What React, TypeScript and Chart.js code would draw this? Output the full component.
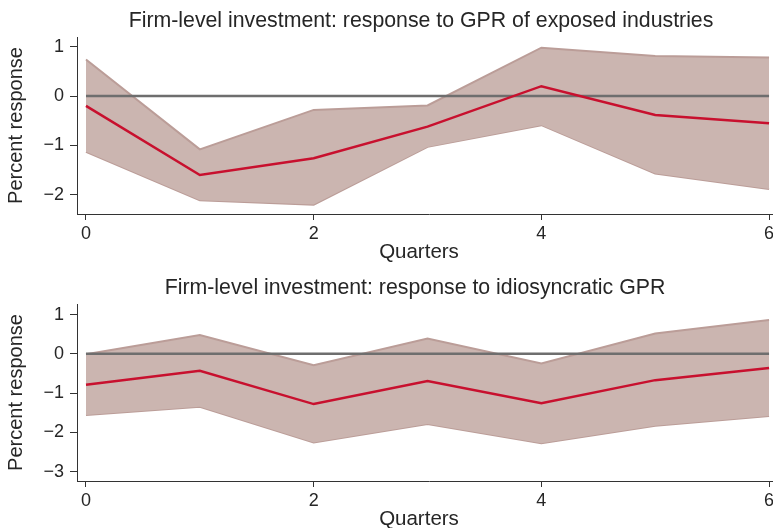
import React, { useEffect, useRef } from "react";
import { Chart, registerables } from "chart.js";

Chart.register(...registerables);

const quarters = [0, 1, 2, 3, 4, 5, 6];
const xTicks = [0, 2, 4, 6];

const exposedMean = [-0.2, -1.6, -1.26, -0.62, 0.2, -0.385, -0.55];
const exposedUpper = [0.74, -1.08, -0.28, -0.19, 0.98, 0.81, 0.78];
const exposedLower = [-1.13, -2.11, -2.2, -1.03, -0.59, -1.57, -1.885];
const exposedTicks = [-2, -1, 0, 1];

const idioMean = [-0.79, -0.43, -1.28, -0.69, -1.26, -0.67, -0.36];
const idioUpper = [-0.01, 0.48, -0.29, 0.39, -0.245, 0.52, 0.86];
const idioLower = [-1.56, -1.35, -2.26, -1.79, -2.28, -1.83, -1.585];
const idioTicks = [-3, -2, -1, 0, 1];

const zeroLine = [0, 0, 0, 0, 0, 0, 0];

const X_TITLE = "Quarters";
const Y_TITLE = "Percent response";

const FONT = "'Liberation Sans', Arial, Helvetica, sans-serif";
const TEXT = "#262626";
const AXIS = "#333333";
const BAND_FILL = "#cbb5b0";
const BAND_EDGE = "#bb9d98";
const RED = "#c8102e";
const ZERO = "#6e6e6e";

const W = 781;
const H = 267;

function pts(ys: number[]) {
  return quarters.map((q, i) => ({ x: q, y: ys[i] }));
}

type PanelProps = {
  title: string;
  titleX: number;
  mean: number[];
  upper: number[];
  lower: number[];
  yTicks: number[];
  yMin: number;
  yMax: number;
};

function Panel({ title, titleX, mean, upper, lower, yTicks, yMin, yMax }: PanelProps) {
  const ref = useRef<HTMLCanvasElement | null>(null);
  useEffect(() => {
    if (!ref.current) return;
    const textPlugin = {
      id: "panelText",
      afterDraw(chart: any) {
        const ctx = chart.ctx;
        ctx.save();
        ctx.fillStyle = TEXT;
        ctx.textAlign = "center";
        ctx.textBaseline = "middle";
        ctx.font = `normal 21.3px ${FONT}`;
        ctx.fillText(title, titleX, 21);
        ctx.font = `normal 20.5px ${FONT}`;
        ctx.fillText(X_TITLE, 419, 252.5);
        ctx.restore();
      },
    };
    const chart = new Chart(ref.current, {
      type: "line",
      data: {
        datasets: [
          {
            data: pts(upper),
            borderColor: BAND_EDGE,
            borderWidth: 2,
            backgroundColor: BAND_FILL,
            fill: "+1",
            pointRadius: 0,
            tension: 0,
            order: 3,
          },
          {
            data: pts(lower),
            borderColor: BAND_EDGE,
            borderWidth: 2,
            backgroundColor: BAND_FILL,
            fill: false,
            pointRadius: 0,
            tension: 0,
            order: 3,
          },
          {
            data: pts(zeroLine),
            borderColor: ZERO,
            borderWidth: 2.5,
            fill: false,
            pointRadius: 0,
            order: 2,
          },
          {
            data: pts(mean),
            borderColor: RED,
            borderWidth: 2.5,
            fill: false,
            pointRadius: 0,
            tension: 0,
            order: 1,
          },
        ],
      },
      plugins: [textPlugin],
      options: {
        responsive: false,
        animation: false,
        devicePixelRatio: 1,
        layout: { padding: { top: 37, left: 0, right: 0, bottom: 0 } },
        plugins: {
          legend: { display: false },
          tooltip: { enabled: false },
          title: { display: false },
        },
        scales: {
          x: {
            type: "linear",
            min: -0.079,
            max: 6.105,
            afterBuildTicks: (s: any) => {
              s.ticks = xTicks.map((v) => ({ value: v }));
            },
            afterFit: (s: any) => {
              s.height = 53;
            },
            ticks: {
              color: TEXT,
              font: { family: FONT, size: 18 },
              padding: 3,
              maxRotation: 0,
              autoSkip: false,
            },
            grid: {
              drawOnChartArea: false,
              drawTicks: true,
              tickLength: 6,
              color: AXIS,
            },
            border: { color: AXIS, width: 1 },
            title: { display: false },
          },
          y: {
            type: "linear",
            min: yMin,
            max: yMax,
            afterBuildTicks: (s: any) => {
              s.ticks = yTicks.map((v) => ({ value: v }));
            },
            afterFit: (s: any) => {
              s.width = 77;
            },
            ticks: {
              color: TEXT,
              font: { family: FONT, size: 18 },
              padding: 6,
              callback: (v: any) => String(v).replace("-", "\u2212"),
            },
            grid: {
              drawOnChartArea: false,
              drawTicks: true,
              tickLength: 7,
              color: AXIS,
            },
            border: { color: AXIS, width: 1 },
            title: {
              display: true,
              text: Y_TITLE,
              color: TEXT,
              font: { family: FONT, size: 20 },
              padding: { top: 4.7, bottom: 0 },
            },
          },
        },
      },
    } as any);
    return () => chart.destroy();
  }, []);
  return (
    <canvas
      ref={ref}
      width={W}
      height={H}
      style={{ width: W + "px", height: H + "px", display: "block" }}
    />
  );
}

export default function App() {
  return (
    <div
      style={{
        position: "fixed",
        left: 0,
        top: 0,
        width: 773,
        height: 528,
        overflow: "hidden",
        background: "#fff",
      }}
    >
      <div style={{ position: "absolute", left: 0, top: 0 }}>
        <Panel
          title="Firm-level investment: response to GPR of exposed industries"
          titleX={421}
          mean={exposedMean}
          upper={exposedUpper}
          lower={exposedLower}
          yTicks={exposedTicks}
          yMin={-2.39}
          yMax={1.197}
        />
      </div>
      <div style={{ position: "absolute", left: 0, top: 267 }}>
        <Panel
          title="Firm-level investment: response to idiosyncratic GPR"
          titleX={415}
          mean={idioMean}
          upper={idioUpper}
          lower={idioLower}
          yTicks={idioTicks}
          yMin={-3.24}
          yMax={1.27}
        />
      </div>
    </div>
  );
}
